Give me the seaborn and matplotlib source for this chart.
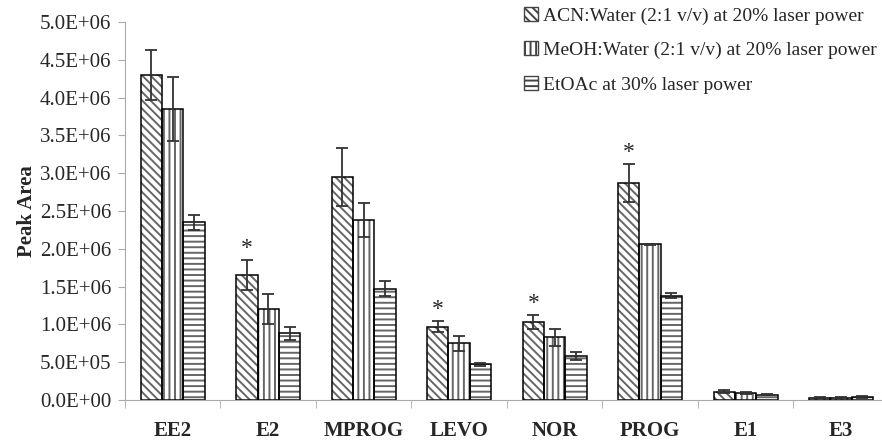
import matplotlib
matplotlib.use("Agg")
import matplotlib.pyplot as plt
import matplotlib.ticker as mticker
import numpy as np
import pandas as pd
import seaborn as sns

compounds = ["EE2", "E2", "MPROG", "LEVO", "NOR", "PROG", "E1", "E3"]
series = ["ACN:Water (2:1 v/v) at 20% laser power",
          "MeOH:Water (2:1 v/v) at 20% laser power",
          "EtOAc at 30% laser power"]
acn = [4.30e6, 1.65e6, 2.95e6, 0.97e6, 1.03e6, 2.87e6, 0.11e6, 0.03e6]
acn_err = [0.33e6, 0.20e6, 0.38e6, 0.07e6, 0.09e6, 0.25e6, 0.02e6, 0.005e6]
meoh = [3.85e6, 1.20e6, 2.38e6, 0.75e6, 0.83e6, 2.06e6, 0.09e6, 0.03e6]
meoh_err = [0.42e6, 0.20e6, 0.22e6, 0.10e6, 0.11e6, 0.01e6, 0.01e6, 0.005e6]
etoac = [2.35e6, 0.88e6, 1.47e6, 0.47e6, 0.58e6, 1.38e6, 0.07e6, 0.04e6]
etoac_err = [0.10e6, 0.09e6, 0.10e6, 0.02e6, 0.05e6, 0.03e6, 0.01e6, 0.01e6]
starred = ["E2", "LEVO", "NOR", "PROG"]

df = pd.DataFrame({
    "compound": compounds * 3,
    "series": np.repeat(series, len(compounds)),
    "value": acn + meoh + etoac,
})
errs = [acn_err, meoh_err, etoac_err]
vals = [acn, meoh, etoac]
hatches = ["\\\\\\\\", "|||", "---"]

sns.set_style("white")
plt.rcParams["font.family"] = ["Liberation Serif", "DejaVu Serif"]
plt.rcParams["hatch.linewidth"] = 1.4

fig = plt.figure(figsize=(8.82, 4.42), dpi=100)
ax = fig.add_axes([0.1417, 0.095, 0.866, 0.855])

sns.barplot(data=df, x="compound", y="value", hue="series", order=compounds,
            hue_order=series, palette=["white"] * 3, width=0.67, errorbar=None,
            edgecolor="#666666", linewidth=0, ax=ax, legend=False)

bar_groups = list(ax.containers)
for i, cont in enumerate(bar_groups):
    for j, bar in enumerate(cont.patches):
        bar.set_hatch(hatches[i])
        bar.set_edgecolor("#666666")
        # black outline on top of the gray hatching
        ax.add_patch(plt.Rectangle(bar.get_xy(), bar.get_width(), bar.get_height(),
                                   fill=False, edgecolor="black", linewidth=1.1))
        cx = bar.get_x() + bar.get_width() / 2
        ax.errorbar(cx, vals[i][j], yerr=errs[i][j], color="#333333",
                    capsize=4, elinewidth=1.3, capthick=1.3, fmt="none")
        if i == 0 and compounds[j] in starred:
            ax.text(cx, vals[i][j] + errs[i][j] + 0.02e6, "*", ha="center",
                    va="bottom", fontsize=17)

ax.set_ylim(0, 5e6)
ax.set_xlim(-0.5, len(compounds) - 0.5)
ax.yaxis.set_major_locator(mticker.MultipleLocator(0.5e6))
ax.yaxis.set_major_formatter(mticker.FuncFormatter(lambda v, p: f"{v:.1E}"))
ax.set_xlabel("")
ax.set_ylabel("Peak Area", fontsize=15, fontweight="bold", labelpad=2)
ax.tick_params(axis="y", labelsize=15, length=5, color="#aaaaaa", left=True,
               direction="out", pad=5)
ax.set_xticks(np.arange(len(compounds)))
ax.set_xticklabels(compounds, fontsize=15, fontweight="bold")
ax.tick_params(axis="x", length=0, pad=15)
ax.set_xticks(np.arange(len(compounds) + 1) - 0.5, minor=True)
ax.tick_params(axis="x", which="minor", length=6, color="#aaaaaa", bottom=True)
for s in ["top", "right"]:
    ax.spines[s].set_visible(False)
for s in ["left", "bottom"]:
    ax.spines[s].set_color("#aaaaaa")

handles = [plt.Rectangle((0, 0), 1, 1, facecolor="white", edgecolor="#444444",
                         hatch=h, linewidth=1.0) for h in hatches]
fig.legend(handles, series, loc="upper left", bbox_to_anchor=(0.594, 0.985),
           frameon=False, fontsize=14, handlelength=0.75, handleheight=0.75,
           handletextpad=0.25, labelspacing=0.85, borderpad=0, borderaxespad=0)

fig.savefig("out.png", dpi=100)
